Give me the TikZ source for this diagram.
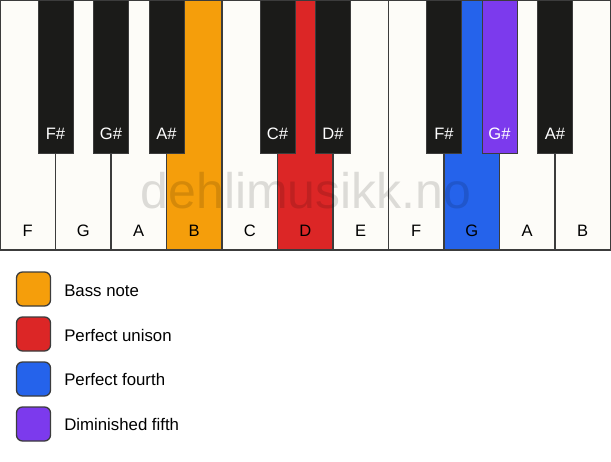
\documentclass[tikz,border=0pt]{standalone}
\usepackage{fontspec}
\setmainfont{Liberation Sans}
\usepackage{xcolor}
\usepackage{tikz}
\definecolor{keywhite}{HTML}{FDFCF8}
\definecolor{keyblack}{HTML}{1B1B19}
\definecolor{keyline}{HTML}{3C3C3C}
\definecolor{bassorange}{HTML}{F59E0B}
\definecolor{unisonred}{HTML}{DC2626}
\definecolor{fourthblue}{HTML}{2563EB}
\definecolor{fifthpurple}{HTML}{7C3AED}

\begin{document}
\begin{tikzpicture}[x=0.75pt,y=-0.75pt,
		whitekey/.style={fill=keywhite,draw=keyline,line width=1pt},
		blackkey/.style={fill=keyblack,draw=keyline,line width=0.6pt},
		keyname/.style={anchor=base,font=\fontsize{12.4}{14}\selectfont},
		legendbox/.style={draw=keyline,line width=1pt,rounded corners=4.5pt},
		legendtext/.style={anchor=base west,inner sep=0pt,font=\fontsize{12.6}{14}\selectfont}]
		\useasboundingbox (0,0) rectangle (611,461);
		% white keys
		\draw[whitekey] (0.5,0) rectangle (55.5,250);
		\draw[whitekey] (55.5,0) rectangle (111,250);
		\draw[whitekey] (111,0) rectangle (166.5,250);
		\draw[whitekey,fill=bassorange] (166.5,0) rectangle (222,250);
		\draw[whitekey] (222,0) rectangle (277.5,250);
		\draw[whitekey,fill=unisonred] (277.5,0) rectangle (333,250);
		\draw[whitekey] (333,0) rectangle (388.5,250);
		\draw[whitekey] (388.5,0) rectangle (444,250);
		\draw[whitekey,fill=fourthblue] (444,0) rectangle (499.5,250);
		\draw[whitekey] (499.5,0) rectangle (555,250);
		\draw[whitekey] (555,0) rectangle (610.5,250);
		% black keys
		\draw[blackkey] (38,0) rectangle (73,153);
		\draw[blackkey] (93.5,0) rectangle (128.5,153);
		\draw[blackkey] (149,0) rectangle (184,153);
		\draw[blackkey] (260,0) rectangle (295,153);
		\draw[blackkey] (315.5,0) rectangle (350.5,153);
		\draw[blackkey] (426.5,0) rectangle (461.5,153);
		\draw[blackkey,fill=fifthpurple] (482,0) rectangle (517,153);
		\draw[blackkey] (537.5,0) rectangle (572.5,153);
		% watermark
		\node (mark) [anchor=base,text=black,text opacity=0.13,font=\fontsize{37.5}{40}\selectfont] at (306,208) {dehlimusikk.no};
		% note names
		\node[keyname] (F1) at (27.75,236) {F};
		\node[keyname] (G1) at (83.25,236) {G};
		\node[keyname] (A1) at (138.75,236) {A};
		\node[keyname] (B1) at (194.25,236) {B};
		\node[keyname] (C1) at (249.75,236) {C};
		\node[keyname] (D1) at (305.25,236) {D};
		\node[keyname] (E1) at (360.75,236) {E};
		\node[keyname] (F2) at (416.25,236) {F};
		\node[keyname] (G2) at (471.75,236) {G};
		\node[keyname] (A2) at (527.25,236) {A};
		\node[keyname] (B2) at (582.75,236) {B};
		\node[keyname,text=white] (Fs1) at (55.5,139) {F\#};
		\node[keyname,text=white] (Gs1) at (111,139) {G\#};
		\node[keyname,text=white] (As1) at (166.5,139) {A\#};
		\node[keyname,text=white] (Cs1) at (277.5,139) {C\#};
		\node[keyname,text=white] (Ds1) at (333,139) {D\#};
		\node[keyname,text=white] (Fs2) at (444,139) {F\#};
		\node[keyname,text=white] (Gs2) at (499.5,139) {G\#};
		\node[keyname,text=white] (As2) at (555,139) {A\#};
		% legend
		\draw[legendbox,fill=bassorange] (16.5,272) rectangle (50.5,306);
		\draw[legendbox,fill=unisonred] (16.5,317) rectangle (50.5,351);
		\draw[legendbox,fill=fourthblue] (16.5,362) rectangle (50.5,396);
		\draw[legendbox,fill=fifthpurple] (16.5,407) rectangle (50.5,441);
		\node[legendtext] (bass) at (64,296) {Bass note};
		\node[legendtext] (unison) at (64,341) {Perfect unison};
		\node[legendtext] (fourth) at (64,385.5) {Perfect fourth};
		\node[legendtext] (fifth) at (64,430) {Diminished fifth};
	\end{tikzpicture}
\end{document}
